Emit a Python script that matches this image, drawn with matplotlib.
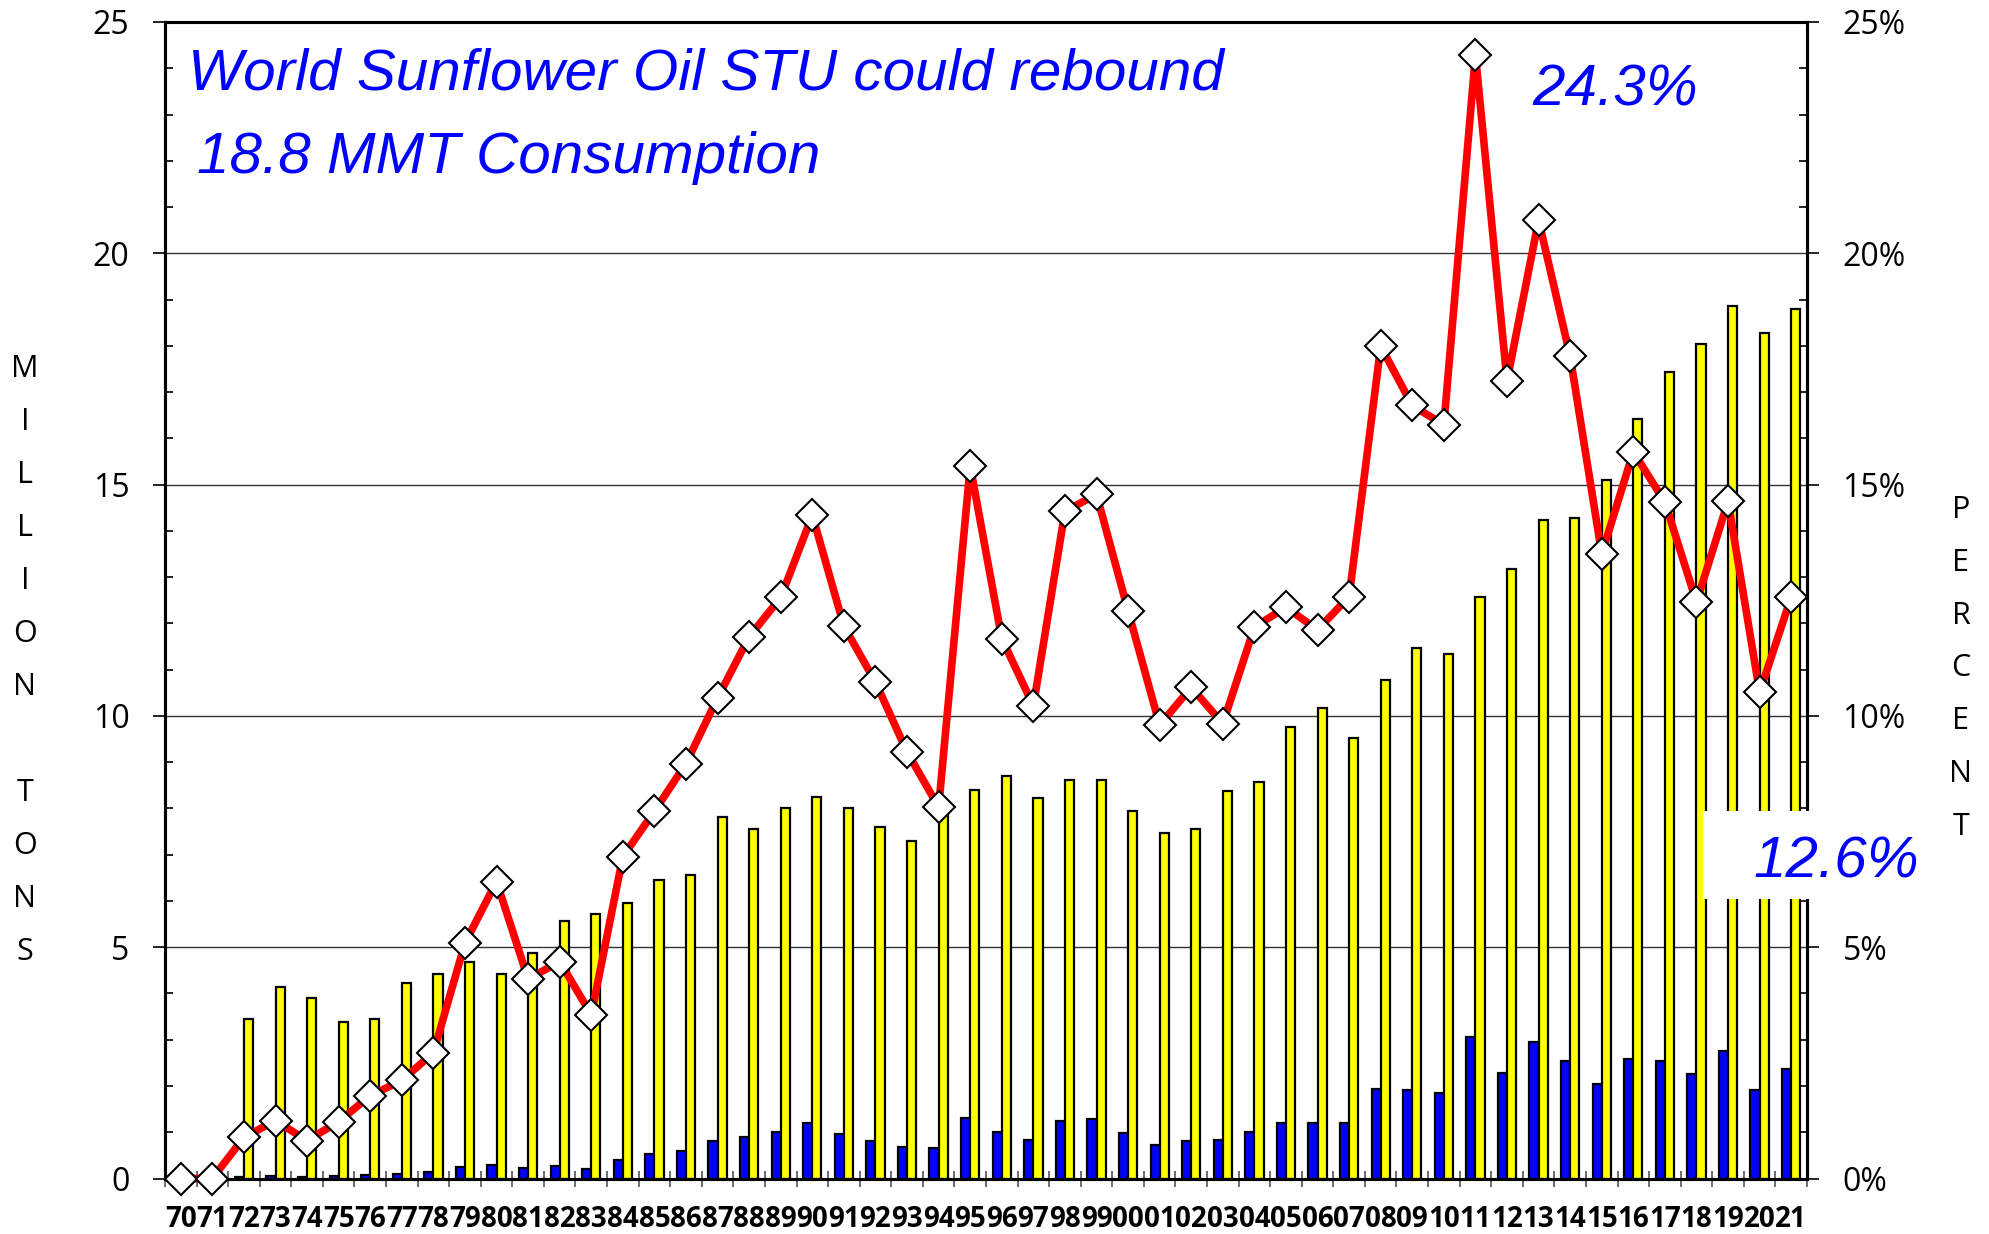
import numpy as np
import matplotlib.pyplot as plt
from matplotlib.patches import Rectangle
from matplotlib.ticker import MultipleLocator, FixedLocator, FuncFormatter

# ---- data ----
years = [f"{y % 100:02d}" for y in range(1970, 2022)]

stocks = [0, 0, 0.04, 0.06, 0.04, 0.05, 0.08, 0.10, 0.13, 0.24,
          0.29, 0.22, 0.26, 0.21, 0.41, 0.52, 0.59, 0.82, 0.89, 1.01,
          1.19, 0.96, 0.82, 0.68, 0.65, 1.30, 1.01, 0.84, 1.24, 1.28,
          0.98, 0.73, 0.81, 0.83, 1.01, 1.21, 1.21, 1.20, 1.94, 1.92,
          1.84, 3.05, 2.27, 2.95, 2.53, 2.04, 2.58, 2.55, 2.26, 2.76,
          1.92, 2.36]

consumption = [0, 0, 3.44, 4.15, 3.91, 3.38, 3.44, 4.22, 4.41, 4.68,
               4.41, 4.87, 5.56, 5.71, 5.95, 6.45, 6.55, 7.82, 7.56, 8.00,
               8.25, 8.01, 7.60, 7.30, 8.05, 8.39, 8.71, 8.22, 8.62, 8.62,
               7.95, 7.47, 7.55, 8.37, 8.58, 9.77, 10.16, 9.52, 10.78, 11.46,
               11.33, 12.57, 13.18, 14.24, 14.28, 15.11, 16.41, 17.44, 18.05, 18.85,
               18.28, 18.79]

stu_pct = [0, 0, 0.89, 1.25, 0.82, 1.23, 1.79, 2.12, 2.72, 5.09,
           6.42, 4.31, 4.69, 3.54, 6.96, 7.94, 8.97, 10.39, 11.71, 12.56,
           14.34, 11.94, 10.73, 9.22, 8.03, 15.40, 11.67, 10.22, 14.42, 14.79,
           12.27, 9.80, 10.62, 9.83, 11.92, 12.35, 11.86, 12.58, 17.99, 16.71,
           16.29, 24.29, 17.24, 20.72, 17.77, 13.50, 15.71, 14.62, 12.46, 14.64,
           10.51, 12.57]

left_label = "MILLION TONS"
right_label = "PERCENT"

W, H = 1990, 1234
fig = plt.figure(figsize=(W / 100, H / 100), dpi=100)
ax = fig.add_axes([165 / W, 1 - 1178.5 / H, (1807 - 165) / W, (1178.5 - 22) / H])

x = np.arange(len(years))
bw = 0.29
ax.bar(x - bw / 2, stocks, width=bw, color='#0000FF', edgecolor='black', linewidth=1.6, zorder=2)
ax.bar(x + bw / 2, consumption, width=bw, color='#FFFF00', edgecolor='black', linewidth=1.6, zorder=2)

ax.set_xlim(-0.5, len(years) - 0.5)
ax.set_ylim(0, 25)
ax.yaxis.set_major_locator(MultipleLocator(5))
ax.yaxis.set_minor_locator(MultipleLocator(1))
ax.grid(axis='y', which='major', color='#333333', linewidth=1.0, zorder=0)
ax.set_axisbelow(True)

tick_font = dict(family=['Open Sans', 'DejaVu Sans'], size=23)
ax.tick_params(axis='y', which='major', direction='out', length=8.6, width=1.2, pad=17)
ax.tick_params(axis='y', which='minor', direction='in', length=6, width=1.2)
for lab in ax.get_yticklabels():
    lab.set_fontproperties(tick_font)

# x: labels at centres, tick marks at boundaries
ax.set_xticks(x)
ax.set_xticklabels(years, fontfamily=['Open Sans', 'DejaVu Sans'], fontsize=20, fontweight='bold')
ax.xaxis.set_minor_locator(FixedLocator(np.arange(-0.5, len(years), 1.0)))
ax.tick_params(axis='x', which='major', length=0, pad=19)
ax.tick_params(axis='x', which='minor', direction='inout', length=12, width=1.2, color='#555555')

for s in ax.spines.values():
    s.set_linewidth(2.2)
    s.set_color('black')

# right axis: stocks-to-use in percent
ax2 = ax.twinx()
ax2.set_ylim(0, 25)
ax2.yaxis.set_major_locator(MultipleLocator(5))
ax2.yaxis.set_minor_locator(MultipleLocator(1))
ax2.yaxis.set_major_formatter(FuncFormatter(lambda v, p: f"{int(v)}%"))
ax2.tick_params(axis='y', which='major', direction='out', length=8.6, width=1.2, pad=17)
ax2.tick_params(axis='y', which='minor', direction='in', length=6, width=1.2)
for lab in ax2.get_yticklabels():
    lab.set_fontproperties(tick_font)
for s in ax2.spines.values():
    s.set_linewidth(2.2)

ax2.plot(x, stu_pct, color='#FF0000', linewidth=5.5, marker='D', markersize=16,
         markerfacecolor='white', markeredgecolor='black', markeredgewidth=1.5,
         clip_on=False, zorder=5)

# titles
blue = '#0000FF'
tfont = ['Liberation Sans', 'DejaVu Sans']
fig.text(188 / W, 1 - 90 / H, "World Sunflower Oil STU could rebound", color=blue,
         fontsize=42, style='italic', family=tfont, va='baseline', ha='left')
fig.text(197 / W, 1 - 173 / H, "18.8 MMT Consumption", color=blue,
         fontsize=42, style='italic', family=tfont, va='baseline', ha='left')
fig.text(1532 / W, 1 - 105 / H, "24.3%", color=blue,
         fontsize=42, style='italic', family=tfont, va='baseline', ha='left')

fig.patches.append(Rectangle((1703 / W, 1 - 899 / H), (1925 - 1703) / W, 88 / H,
                             transform=fig.transFigure, facecolor='white',
                             edgecolor='none', zorder=2))
fig.text(1753 / W, 1 - 877 / H, "12.6%", color=blue,
         fontsize=42, style='italic', family=tfont, va='baseline', ha='left', zorder=3)

# stacked letters for axis titles
lfont = ['Open Sans', 'DejaVu Sans']
step = 53
for i, ch in enumerate(left_label):
    fig.text(25 / W, 1 - (369 + i * step) / H, ch, fontsize=22, family=lfont,
             ha='center', va='center')
for i, ch in enumerate(right_label):
    fig.text(1961 / W, 1 - (510 + i * 52.8) / H, ch, fontsize=22, family=lfont,
             ha='center', va='center')

fig.savefig('out.png', dpi=100)
